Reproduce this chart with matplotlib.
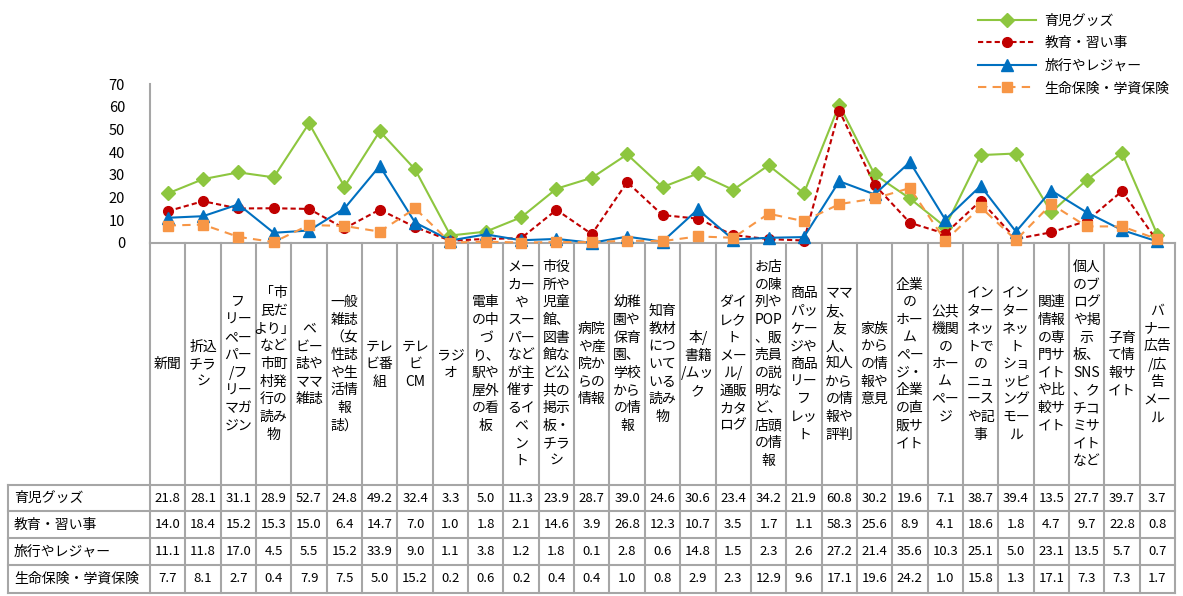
import matplotlib
matplotlib.use("Agg")
import matplotlib.pyplot as plt
import numpy as np

plt.rcParams['font.family'] = ['Noto Sans CJK JP', 'DejaVu Sans']

# category labels, wrapped the way the source chart wraps them
categories = [
    "新聞", "折込\nチラ\nシ", "フ\nリー\nペー\nパー\n/フ\nリー\nマガ\nジン",
    "「市\n民だ\nより」\nなど\n市町\n村発\n行の\n読み\n物",
    "ベ\nビー\n誌や\nママ\n雑誌",
    "一般\n雑誌\n（女\n性誌\nや生\n活情\n報\n誌）",
    "テレ\nビ番\n組", "テレ\nビ\nCM", "ラジ\nオ",
    "電車\nの中\nづ\nり、\n駅や\n屋外\nの看\n板",
    "メー\nカー\nや\nスー\nパー\nなど\nが主\n催す\nるイ\nベ\nン\nト",
    "市役\n所や\n児童\n館、\n図書\n館な\nど公\n共の\n掲示\n板・\nチラ\nシ",
    "病院\nや産\n院か\nらの\n情報",
    "幼稚\n園や\n保育\n園、\n学校\nから\nの情\n報",
    "知育\n教材\nにつ\nいて\nいる\n読み\n物",
    "本/\n書籍\n/ムッ\nク",
    "ダイ\nレク\nト\nメー\nル/\n通販\nカタ\nログ",
    "お店\nの陳\n列や\nPOP\n、販\n売員\nの説\n明な\nど、\n店頭\nの情\n報",
    "商品\nパッ\nケー\nジや\n商品\nリー\nフ\nレッ\nト",
    "ママ\n友、\n友\n人、\n知人\nから\nの情\n報や\n評判",
    "家族\nから\nの情\n報や\n意見",
    "企業\nの\nホー\nム\nペー\nジ・\n企業\nの直\n販サ\nイト",
    "公共\n機関\nの\nホー\nム\nペー\nジ",
    "イン\nター\nネッ\nトで\nの\nニュ\nース\nや記\n事",
    "イン\nター\nネッ\nト\nショ\nッピ\nング\nモー\nル",
    "関連\n情報\nの専\n門サ\nイト\nや比\n較サ\nイト",
    "個人\nのブ\nログ\nや掲\n示\n板、\nSNS\n、ク\nチコ\nミサ\nイト\nなど",
    "子育\nて情\n報サ\nイト",
    "バ\nナー\n広告\n/広\n告\nメー\nル",
]

series_names = ["育児グッズ", "教育・習い事", "旅行やレジャー", "生命保険・学資保険"]

baby_goods = [21.8, 28.1, 31.1, 28.9, 52.7, 24.8, 49.2, 32.4, 3.3, 5.0, 11.3, 23.9, 28.7, 39.0,
              24.6, 30.6, 23.4, 34.2, 21.9, 60.8, 30.2, 19.6, 7.1, 38.7, 39.4, 13.5, 27.7, 39.7, 3.7]
education = [14.0, 18.4, 15.2, 15.3, 15.0, 6.4, 14.7, 7.0, 1.0, 1.8, 2.1, 14.6, 3.9, 26.8,
             12.3, 10.7, 3.5, 1.7, 1.1, 58.3, 25.6, 8.9, 4.1, 18.6, 1.8, 4.7, 9.7, 22.8, 0.8]
travel = [11.1, 11.8, 17.0, 4.5, 5.5, 15.2, 33.9, 9.0, 1.1, 3.8, 1.2, 1.8, 0.1, 2.8,
          0.6, 14.8, 1.5, 2.3, 2.6, 27.2, 21.4, 35.6, 10.3, 25.1, 5.0, 23.1, 13.5, 5.7, 0.7]
insurance = [7.7, 8.1, 2.7, 0.4, 7.9, 7.5, 5.0, 15.2, 0.2, 0.6, 0.2, 0.4, 0.4, 1.0,
             0.8, 2.9, 2.3, 12.9, 9.6, 17.1, 19.6, 24.2, 1.0, 15.8, 1.3, 17.1, 7.3, 7.3, 1.7]

all_series = [baby_goods, education, travel, insurance]
styles = [
    dict(color="#8DC63F", ls="-", marker="D", ms=7, lw=1.5),
    dict(color="#C00000", ls=(0, (2.5, 1.5)), marker="o", ms=7, lw=1.5),
    dict(color="#0070C0", ls="-", marker="^", ms=8, lw=1.5),
    dict(color="#F79646", ls=(0, (4, 3)), marker="s", ms=6.5, lw=1.5),
]

W, H = 1183, 596
fig = plt.figure(figsize=(W / 100, H / 100), dpi=100)

grid_gray = "#A6A6A6"
n = len(categories)
x = np.arange(n)

# pixel layout
px_left, px_right = 150, 1175
px_top, px_axis = 84, 243
px_table_left = 8
px_rows = [485, 511, 538, 565, 593]

ax = fig.add_axes([px_left / W, 1 - px_axis / H, (px_right - px_left) / W, (px_axis - px_top) / H])
for vals, name, st in zip(all_series, series_names, styles):
    ax.plot(x, vals, label=name, color=st["color"], ls=st["ls"], lw=st["lw"],
            marker=st["marker"], ms=st["ms"], mec=st["color"], mfc=st["color"], clip_on=False, zorder=3)

ax.set_xlim(-0.5, n - 0.5)
ax.set_ylim(0, 70)
ax.set_yticks(range(0, 71, 10))
ax.tick_params(axis="y", length=0, labelsize=10.5, pad=18)
ax.set_xticks([])
for s in ["top", "right"]:
    ax.spines[s].set_visible(False)
ax.spines["left"].set_color(grid_gray)
ax.spines["bottom"].set_color(grid_gray)
ax.spines["left"].set_linewidth(1.5)
ax.spines["bottom"].set_linewidth(1.5)

# table area below the plot, x in category units, y in pixels
tab = fig.add_axes([px_table_left / W, 1 - px_rows[-1] / H, (px_right - px_table_left) / W, (px_rows[-1] - px_axis) / H])
x_left = -0.5 - (px_left - px_table_left) / (px_right - px_left) * n
tab.set_xlim(x_left, n - 0.5)
tab.set_ylim(px_rows[-1], px_axis)
tab.axis("off")

# column separators
for i in range(n + 1):
    tab.plot([i - 0.5, i - 0.5], [px_axis, px_rows[-1]], color=grid_gray, lw=1.5, clip_on=False)
# row lines
for y in px_rows:
    tab.plot([x_left, n - 0.5], [y, y], color=grid_gray, lw=1.5, clip_on=False)
tab.plot([x_left, x_left], [px_rows[0], px_rows[-1]], color=grid_gray, lw=1.5, clip_on=False)

# category labels
label_mid = (px_axis + px_rows[0]) / 2
for i, lab in enumerate(categories):
    tab.text(i, label_mid, lab, ha="center", va="center", fontsize=10, linespacing=1.33, multialignment="center")

# data rows
for r, (vals, name) in enumerate(zip(all_series, series_names)):
    yc = (px_rows[r] + px_rows[r + 1]) / 2
    tab.text(x_left + 0.17, yc, name, ha="left", va="center", fontsize=10)
    for i, v in enumerate(vals):
        tab.text(i, yc, f"{v:.1f}", ha="center", va="center", fontsize=9.5)

fig.legend(*ax.get_legend_handles_labels(), loc="upper right", bbox_to_anchor=(1182 / W, 1 - 1 / H),
           frameon=False, fontsize=10, handlelength=4.2, labelspacing=0.62, handletextpad=0.6)

fig.savefig("out.png", dpi=100)
